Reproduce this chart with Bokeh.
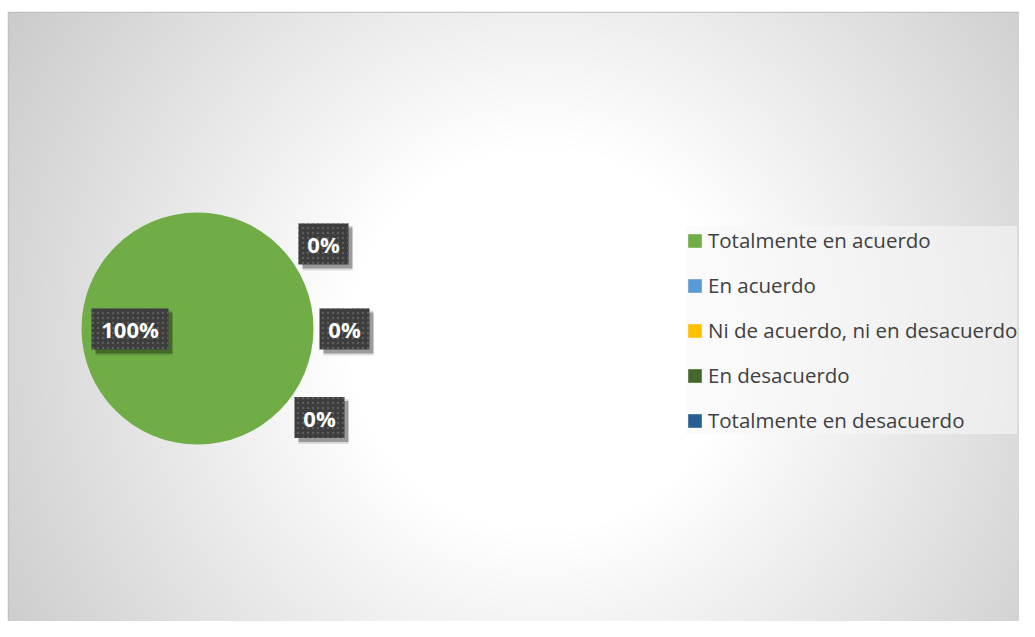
import numpy as np
from bokeh.plotting import figure
from bokeh.models import ColumnDataSource, Range1d, Legend, LegendItem
from bokeh.core.properties import value
from bokeh.embed import file_html
from bokeh.resources import INLINE

# ---- data ----
categories = ["Totalmente en acuerdo", "En acuerdo", "Ni de acuerdo, ni en desacuerdo",
              "En desacuerdo", "Totalmente en desacuerdo"]
percentages = [100, 0, 0, 0, 0]
colors = ["#70AD47", "#5B9BD5", "#FFC000", "#43682B", "#255E91"]

# ---- layout (pixels) ----
W, H = 1019, 621
LEFT, TOP = 8, 12
FW, FH = W - LEFT, H - TOP
CX, CY, R = 189, 293, 116
# data-label box centres (first four slices)
label_x = [121.5, 315, 336, 311]
label_y = [292.5, 377.5, 292.5, 204]

p = figure(width=W, height=H, output_backend="svg", toolbar_location=None,
           x_range=Range1d(0, FW), y_range=Range1d(0, FH),
           min_border_left=LEFT, min_border_right=0, min_border_bottom=0, min_border_top=TOP)
p.axis.visible = False
p.grid.visible = False
p.border_fill_color = "white"
p.outline_line_color = "#bdbdbd"
p.outline_line_width = 1.5

# radial gradient background
yy, xx = np.mgrid[0:FH, 0:FW]
rr = np.hypot(xx - 532, yy - 281)
g = np.clip(255 - 0.121 * np.clip(rr - 195, 0, None), 0, 255).astype(np.uint32)
img = (np.uint32(255) << 24) | (g << 16) | (g << 8) | g
p.image_rgba(image=[img], x=0, y=0, dw=FW, dh=FH)

# pie (zero slices get NaN angles so they are not drawn, but stay in the legend)
vals = np.array(percentages, dtype=float)
frac = vals / vals.sum()
START = 0.0
ends = START - 2 * np.pi * np.cumsum(frac)
starts = np.concatenate([[START], ends[:-1]])
starts = np.where(frac > 0, starts, np.nan)
ends = np.where(frac > 0, ends, np.nan)
src = ColumnDataSource(dict(start=starts, end=ends, color=colors, cat=categories))
wr = p.wedge(x=CX, y=CY, radius=R, start_angle="start", end_angle="end", direction="clock",
             fill_color="color", line_color=None, source=src)

# data labels
texts = [f"{v:.0f}%" for v in percentages[:len(label_x)]]
bw = [23 + 13.5 * len(t) for t in texts]
lsrc = ColumnDataSource(dict(x=label_x, y=label_y, t=texts, w=bw,
                             sx=[x + 4 for x in label_x], sy=[y - 4 for y in label_y]))
p.rect(x="sx", y="sy", width="w", height=45, fill_color="black", fill_alpha=0.12,
       line_color=None, source=lsrc)
p.rect(x="sx", y="sy", width="w", height=41, fill_color="black", fill_alpha=0.3,
       line_color=None, source=lsrc)
p.rect(x="x", y="y", width="w", height=41, fill_color="#3d3d3d", line_color=None,
       hatch_pattern=".", hatch_color="#5c5c5c", hatch_scale=5, hatch_weight=1, source=lsrc)
p.text(x="x", y="y", text="t", text_font=value("Open Sans"), text_font_style="bold",
       text_font_size="22px", text_color="white", text_align="center",
       text_baseline="middle", source=lsrc)

# legend
items = [LegendItem(label=c, renderers=[wr], index=i) for i, c in enumerate(categories)]
legend = Legend(items=items, location=(678, 187), margin=0, padding=11, spacing=17,
                label_height=28, glyph_width=17, glyph_height=17, label_standoff=5,
                label_text_font="Open Sans", label_text_font_size="20.5px",
                label_text_color="#404040", background_fill_color="#f7f7f7",
                background_fill_alpha=0.6, border_line_color=None)
p.add_layout(legend)

open("out.html", "w").write(file_html(p, INLINE))
